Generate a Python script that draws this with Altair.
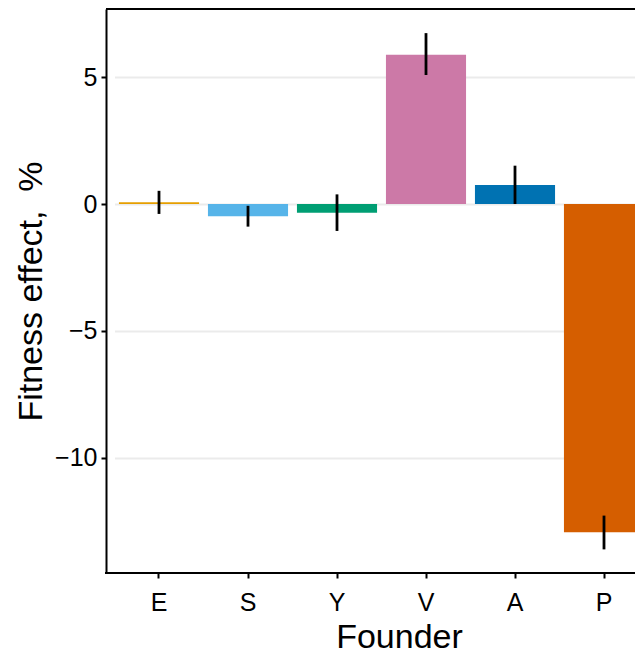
import altair as alt
import pandas as pd

# ---- data ----
founders = ["E", "S", "Y", "V", "A", "P"]
effect = [0.07, -0.48, -0.34, 5.88, 0.75, -12.93]
err_lo = [-0.39, -0.89, -1.06, 5.08, 0.0, -13.60]
err_hi = [0.52, -0.07, 0.38, 6.73, 1.51, -12.27]
colors = ["#E69F00", "#56B4E9", "#009E73", "#CC79A7", "#0072B2", "#D55E00"]
y_ticks = [-10, -5, 0, 5]

df = pd.DataFrame({"founder": founders, "effect": effect, "lo": err_lo, "hi": err_hi})

W, H = 529, 564
FONT = "Liberation Sans"

xscale = alt.Scale(domain=founders, range=[8.5, 542.5], paddingInner=0.1, paddingOuter=0.05)
yscale = alt.Scale(domain=[-14.53, 7.68], nice=False, zero=False)

xenc = alt.X("founder:N", scale=xscale, sort=founders,
             axis=alt.Axis(title="Founder", domain=False, ticks=True, tickColor="black",
                           tickWidth=2, tickSize=5, labelAngle=0, labelFontSize=25,
                           labelFont=FONT, labelColor="black", labelBaseline="alphabetic",
                           labelPadding=32, grid=False, titleFont=FONT, titleFontSize=34,
                           titleFontWeight="normal", titleColor="black",
                           titleX=293, titleY=74, titleAlign="center",
                           titleBaseline="alphabetic"))

yaxis = alt.Axis(title="Fitness effect,\u00a0 %", values=y_ticks, grid=True, gridColor="#ebebeb",
                 gridWidth=2, domain=True, domainColor="black", domainWidth=2,
                 tickColor="black", tickWidth=2, tickSize=5, labelFontSize=25,
                 labelFont=FONT, labelColor="black", labelPadding=4,
                 titleFont=FONT, titleFontSize=34, titleFontWeight="normal",
                 titleColor="black", titleAngle=270, titleX=-65, titleY=282,
                 titleAlign="center", titleBaseline="alphabetic")

bars = alt.Chart(df).mark_bar(clip=True).encode(
    x=xenc,
    y=alt.Y("effect:Q", scale=yscale, axis=yaxis),
    y2=alt.datum(0),
    color=alt.Color("founder:N", scale=alt.Scale(domain=founders, range=colors), legend=None),
)

errs = alt.Chart(df).mark_rule(color="black", strokeWidth=2.8, clip=True).encode(
    x=alt.X("founder:N", scale=xscale, sort=founders),
    y=alt.Y("lo:Q", scale=yscale),
    y2="hi:Q",
)

top_line = alt.Chart(df).mark_rule(color="black", strokeWidth=2).encode(
    x=alt.value(0), x2=alt.value(W), y=alt.value(0)
)
bottom_line = alt.Chart(df).mark_rule(color="black", strokeWidth=2).encode(
    x=alt.value(-1), x2=alt.value(W), y=alt.value(H)
)

chart = alt.layer(bars, errs, top_line, bottom_line).properties(
    width=W, height=H,
    autosize=alt.AutoSizeParams(type="none"),
    padding={"left": 98, "top": 1, "right": 0, "bottom": 80},
    background="white",
).configure_view(stroke=None)

chart.save("out.html", embed_options={"renderer": "svg", "actions": False})
